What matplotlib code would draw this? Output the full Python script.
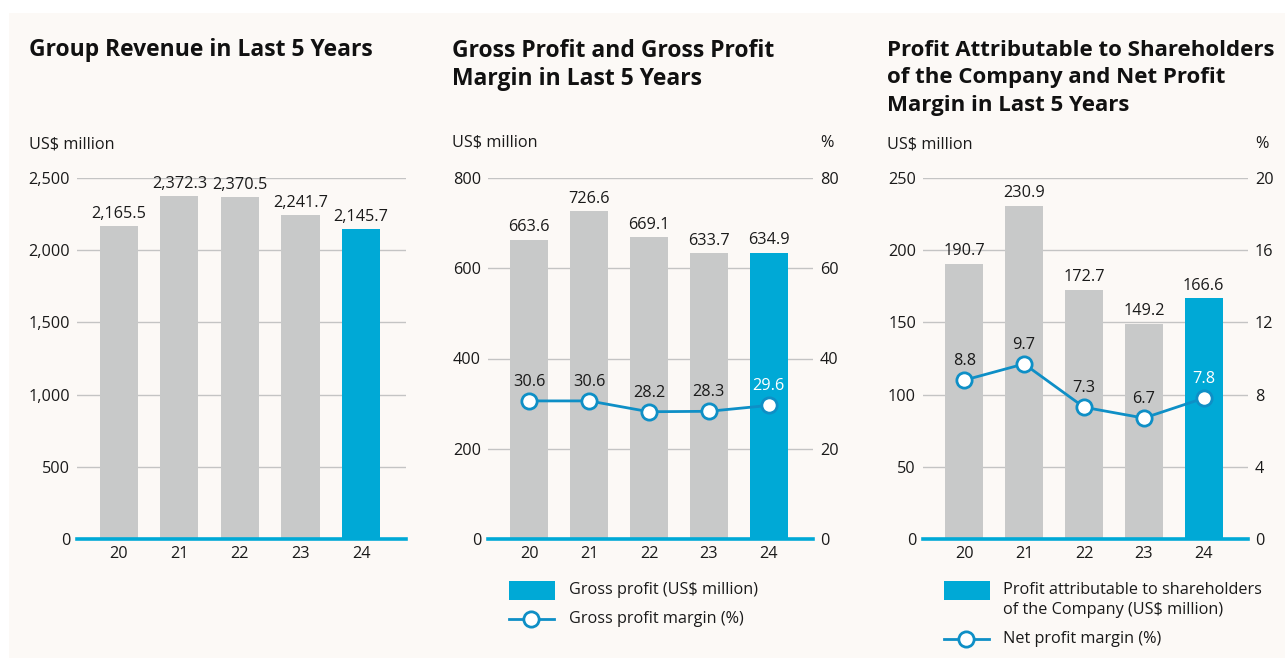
import matplotlib
matplotlib.use("Agg")
import matplotlib.pyplot as plt
from matplotlib.patches import Rectangle
from matplotlib.lines import Line2D

plt.rcParams['font.family'] = ['Open Sans', 'DejaVu Sans']

years = ["20", "21", "22", "23", "24"]
revenue = [2165.5, 2372.3, 2370.5, 2241.7, 2145.7]
revenue_labels = ["2,165.5", "2,372.3", "2,370.5", "2,241.7", "2,145.7"]
gross_profit = [663.6, 726.6, 669.1, 633.7, 634.9]
gross_margin = [30.6, 30.6, 28.2, 28.3, 29.6]
net_profit = [190.7, 230.9, 172.7, 149.2, 166.6]
net_margin = [8.8, 9.7, 7.3, 6.7, 7.8]

rev_ticks = [0, 500, 1000, 1500, 2000, 2500]
rev_tick_labels = ["0", "500", "1,000", "1,500", "2,000", "2,500"]
gp_ticks = [0, 200, 400, 600, 800]
gm_ticks = [0, 20, 40, 60, 80]
np_ticks = [0, 50, 100, 150, 200, 250]
nm_ticks = [0, 4, 8, 12, 16, 20]

W, H = 1285, 662
BG = "#FCF9F6"
GRAY = "#C8C9C9"
BLUE = "#00A9D6"
LINEBLUE = "#0E8FC6"
GRID = "#C4C4C4"
TXT = "#1A1A1A"
FS = 11.7

fig = plt.figure(figsize=(W / 100, H / 100), dpi=100)
fig.patch.set_facecolor("white")
fig.patches.append(Rectangle((9 / W, 1 - 658 / H), (W - 9) / W, (658 - 13) / H,
                             transform=fig.transFigure, facecolor=BG, edgecolor="none", zorder=-10))


def px(x, y):
    return x / W, 1 - y / H


def make_axes(x0, x1, ytop=178, ybot=539):
    ax = fig.add_axes([x0 / W, 1 - ybot / H, (x1 - x0) / W, (ybot - ytop) / H])
    ax.set_facecolor("none")
    for s in ax.spines.values():
        s.set_visible(False)
    return ax


def style_bars(ax, values, ymax, ticks, ticklabels):
    xs = list(range(len(years)))
    colors = [GRAY] * (len(values) - 1) + [BLUE]
    ax.bar(xs, values, width=0.63, color=colors, zorder=2)
    ax.set_xlim(-0.69, 4.74)
    ax.set_ylim(0, ymax)
    ax.set_yticks(ticks)
    ax.set_yticklabels(ticklabels)
    ax.set_xticks(xs)
    ax.set_xticklabels(years)
    ax.tick_params(axis="both", length=0, labelsize=FS, colors=TXT)
    ax.tick_params(axis="y", pad=5)
    ax.tick_params(axis="x", pad=5)
    for t in ticks[1:]:
        ax.axhline(t, color=GRID, lw=1.0, zorder=1)
    ax.axhline(0, color=BLUE, lw=2.6, zorder=3, clip_on=False)
    return xs


# ---------- Panel 1 ----------
ax1 = make_axes(77, 406)
xs = style_bars(ax1, revenue, 2500, rev_ticks, rev_tick_labels)
for x, v, lab in zip(xs, revenue, revenue_labels):
    ax1.annotate(lab, (x, v), xytext=(0, 3), textcoords="offset points",
                 ha="center", va="bottom", fontsize=FS, color=TXT, annotation_clip=False)
fig.text(*px(29, 50), "Group Revenue in Last 5 Years", fontsize=16.5, fontweight="bold",
         ha="left", va="center", color="#111111")
fig.text(*px(29, 144), "US$ million", fontsize=FS, ha="left", va="center", color=TXT)

# ---------- Panel 2 ----------
ax2 = make_axes(488, 813)
xs = style_bars(ax2, gross_profit, 800, gp_ticks, [str(t) for t in gp_ticks])
for x, v in zip(xs, gross_profit):
    ax2.annotate(f"{v:.1f}", (x, v), xytext=(0, 3), textcoords="offset points",
                 ha="center", va="bottom", fontsize=FS, color=TXT, annotation_clip=False)
ax2r = ax2.twinx()
for s in ax2r.spines.values():
    s.set_visible(False)
ax2r.set_ylim(0, 80)
ax2r.set_yticks(gm_ticks)
ax2r.set_yticklabels([str(t) for t in gm_ticks])
ax2r.tick_params(axis="y", length=0, labelsize=FS, colors=TXT, pad=5)
ax2r.plot(xs, gross_margin, color=LINEBLUE, lw=2, marker="o", markersize=11,
          markerfacecolor="white", markeredgecolor=LINEBLUE, markeredgewidth=2, zorder=5)
for i, (x, v) in enumerate(zip(xs, gross_margin)):
    ax2r.annotate(f"{v:.1f}", (x, v), xytext=(0, 8), textcoords="offset points",
                  ha="center", va="bottom", fontsize=FS,
                  color="white" if i == len(xs) - 1 else TXT)
fig.text(*px(452, 65), "Gross Profit and Gross Profit\nMargin in Last 5 Years", fontsize=16.5,
         fontweight="bold", ha="left", va="center", color="#111111", linespacing=1.25)
fig.text(*px(452, 142), "US$ million", fontsize=FS, ha="left", va="center", color=TXT)
fig.text(*px(827, 143), "%", fontsize=FS, ha="center", va="center", color=TXT)

# legend panel 2
fig.patches.append(Rectangle(px(509, 600), 46 / W, 19 / H, transform=fig.transFigure,
                             facecolor=BLUE, edgecolor="none"))
fig.text(*px(569, 590), "Gross profit (US$ million)", fontsize=FS, ha="left", va="center", color=TXT)
fig.lines.append(Line2D([509 / W, 554 / W], [1 - 619 / H, 1 - 619 / H], transform=fig.transFigure,
                        color=LINEBLUE, lw=2))
fig.lines.append(Line2D([531 / W], [1 - 619 / H], transform=fig.transFigure, marker="o",
                        markersize=11, markerfacecolor="white", markeredgecolor=LINEBLUE,
                        markeredgewidth=2, color=LINEBLUE))
fig.text(*px(569, 619), "Gross profit margin (%)", fontsize=FS, ha="left", va="center", color=TXT)

# ---------- Panel 3 ----------
ax3 = make_axes(923, 1248)
xs = style_bars(ax3, net_profit, 250, np_ticks, [str(t) for t in np_ticks])
for x, v in zip(xs, net_profit):
    ax3.annotate(f"{v:.1f}", (x, v), xytext=(0, 3), textcoords="offset points",
                 ha="center", va="bottom", fontsize=FS, color=TXT, annotation_clip=False)
ax3r = ax3.twinx()
for s in ax3r.spines.values():
    s.set_visible(False)
ax3r.set_ylim(0, 20)
ax3r.set_yticks(nm_ticks)
ax3r.set_yticklabels([str(t) for t in nm_ticks])
ax3r.tick_params(axis="y", length=0, labelsize=FS, colors=TXT, pad=5)
ax3r.plot(xs, net_margin, color=LINEBLUE, lw=2, marker="o", markersize=11,
          markerfacecolor="white", markeredgecolor=LINEBLUE, markeredgewidth=2, zorder=5)
for i, (x, v) in enumerate(zip(xs, net_margin)):
    ax3r.annotate(f"{v:.1f}", (x, v), xytext=(0, 8), textcoords="offset points",
                  ha="center", va="bottom", fontsize=FS,
                  color="white" if i == len(xs) - 1 else TXT)
fig.text(*px(887, 78), "Profit Attributable to Shareholders\nof the Company and Net Profit\nMargin in Last 5 Years",
         fontsize=16, fontweight="bold", ha="left", va="center", color="#111111", linespacing=1.38)
fig.text(*px(887, 144), "US$ million", fontsize=FS, ha="left", va="center", color=TXT)
fig.text(*px(1262, 144), "%", fontsize=FS, ha="center", va="center", color=TXT)

# legend panel 3
fig.patches.append(Rectangle(px(944, 600), 46 / W, 19 / H, transform=fig.transFigure,
                             facecolor=BLUE, edgecolor="none"))
fig.text(*px(1003, 600), "Profit attributable to shareholders\nof the Company (US$ million)",
         fontsize=FS, ha="left", va="center", color=TXT, linespacing=1.25)
fig.lines.append(Line2D([944 / W, 989 / W], [1 - 639 / H, 1 - 639 / H], transform=fig.transFigure,
                        color=LINEBLUE, lw=2))
fig.lines.append(Line2D([966 / W], [1 - 639 / H], transform=fig.transFigure, marker="o",
                        markersize=11, markerfacecolor="white", markeredgecolor=LINEBLUE,
                        markeredgewidth=2, color=LINEBLUE))
fig.text(*px(1003, 639), "Net profit margin (%)", fontsize=FS, ha="left", va="center", color=TXT)

fig.savefig("out.png", dpi=100, facecolor=fig.get_facecolor())
